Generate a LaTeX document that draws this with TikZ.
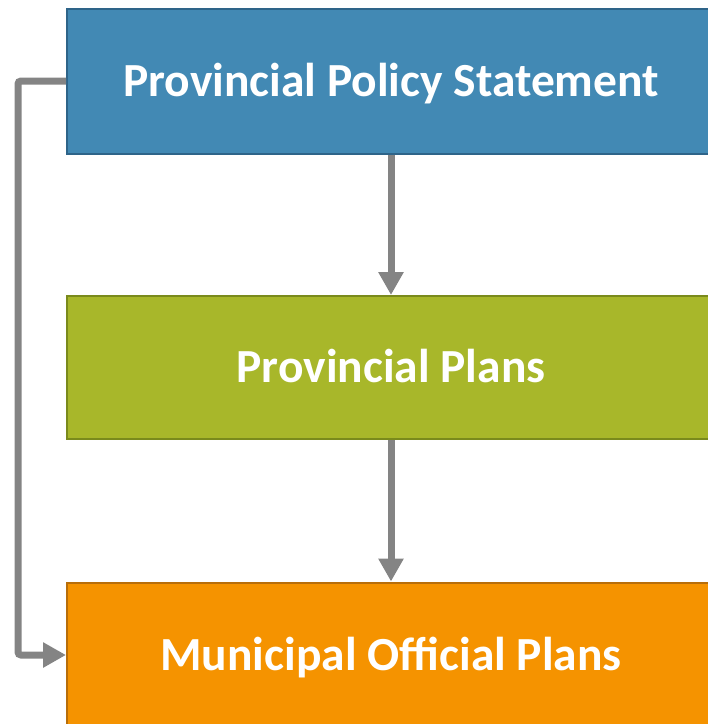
\documentclass[tikz,border=0pt]{standalone}
\usepackage{fontspec}
\setmainfont{Carlito}
\usetikzlibrary{arrows.meta}
\definecolor{pblue}{HTML}{4289B4}
\definecolor{pblueD}{HTML}{2E6489}
\definecolor{pgreen}{HTML}{A8B72A}
\definecolor{pgreenD}{HTML}{7A8A1C}
\definecolor{porange}{HTML}{F59300}
\definecolor{porangeD}{HTML}{B86E0A}
\definecolor{pgrey}{HTML}{848484}
\begin{document}
\begin{tikzpicture}[x=1pt,y=-1pt,
  levelbox/.style={rectangle,minimum width=648pt,minimum height=145pt,line width=2pt,
    text=white,font=\fontsize{47.5}{56}\selectfont\bfseries,inner sep=0pt,
    text height=30pt,text depth=0pt},
  conn/.style={draw=pgrey,line width=7pt,-{Triangle[width=24pt,length=23pt]}}]
\useasboundingbox (0,0) rectangle (708,724);
\clip (0,0) rectangle (708,724);
\node[levelbox,fill=pblue,draw=pblueD] (pps) at (391,81) {Provincial Policy Statement};
\node[levelbox,fill=pgreen,draw=pgreenD,minimum height=143pt] (pp) at (391,367.5) {Provincial Plans};
\node[levelbox,fill=porange,draw=porangeD] (mop) at (391,655) {Municipal Official Plans};
\draw[conn] (pps.south) -- (pp.north);
\draw[conn] (pp.south) -- (mop.north);
\draw[conn,rounded corners=3pt] (pps.west) -- ++(-48,0) |- (mop.west);
\end{tikzpicture}
\end{document}
